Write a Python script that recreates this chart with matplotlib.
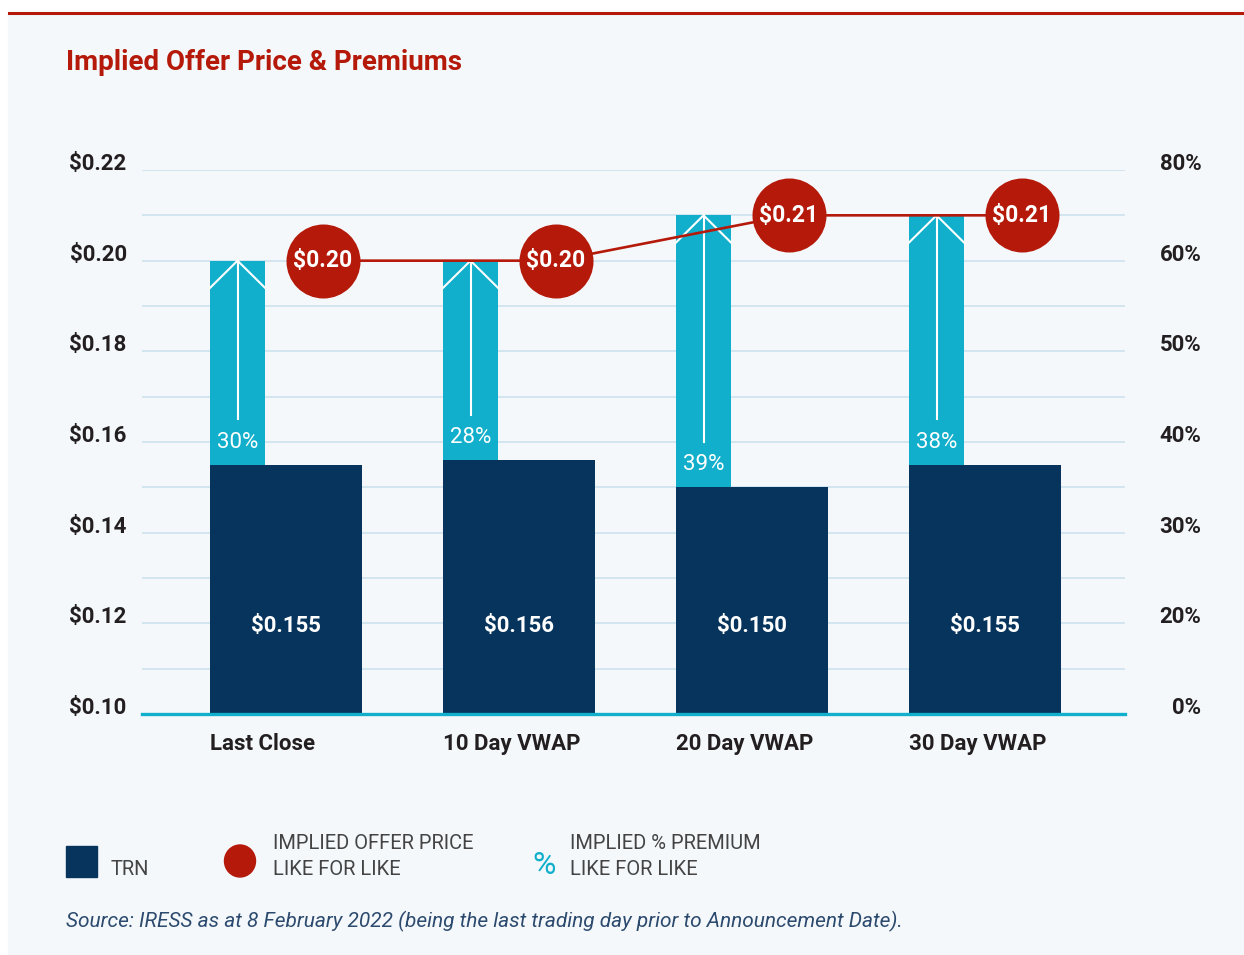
import numpy as np
import matplotlib
matplotlib.use("Agg")
import matplotlib.pyplot as plt
from matplotlib.patches import Rectangle, Ellipse
from matplotlib.lines import Line2D

# data
categories = ["Last Close", "10 Day VWAP", "20 Day VWAP", "30 Day VWAP"]
trn_price = [0.155, 0.156, 0.150, 0.155]
offer_price = [0.20, 0.20, 0.21, 0.21]
premium_pct = [30, 28, 39, 38]
left_ticks = [0.10, 0.12, 0.14, 0.16, 0.18, 0.20, 0.22]
left_tick_labels = ["$0.10", "$0.12", "$0.14", "$0.16", "$0.18", "$0.20", "$0.22"]
right_tick_labels = ["0%", "20%", "30%", "40%", "50%", "60%", "80%"]

NAVY = "#06345c"
CYAN = "#11afcb"
RED = "#b5190a"
GRID = "#d3e5ee"
PANEL = "#f4f8fb"
TEXT = "#231f20"
LEGTXT = "#444444"

plt.rcParams['font.family'] = ['Roboto', 'DejaVu Sans']

W, H = 1244, 955
fig = plt.figure(figsize=(W / 100, H / 100), dpi=100)

def fx(px):
    return px / W

def fy(py):
    return 1 - py / H

# panel background and red top rule
fig.patches.append(Rectangle((fx(8), 0), 1 - fx(8), fy(14), transform=fig.transFigure,
                             color=PANEL, zorder=-10))
fig.add_artist(Line2D([fx(9), 1], [fy(13.5), fy(13.5)], color=RED, lw=2.2))

fig.text(fx(66), fy(62), "Implied Offer Price & Premiums", color=RED, fontsize=20,
         fontweight='semibold', va='center', ha='left')

ax = fig.add_axes([fx(142), fy(714), fx(1125) - fx(142), fy(170) - fy(714)])
ax.set_facecolor('none')
ax.set_zorder(2)

x = np.arange(len(categories))
bar_w = 0.652
cyan_w = 0.236
circ_off = 0.159

trn = np.array(trn_price)
offer = np.array(offer_price)

ax.bar(x, trn - 0.10, bottom=0.10, width=bar_w, color=NAVY, zorder=2)
ax.bar(x - bar_w / 2, offer - trn, bottom=trn, width=cyan_w, align='edge',
       color=CYAN, zorder=2)

# arrows inside the premium bars
for i in range(len(x)):
    cx = x[i] - bar_w / 2 + cyan_w / 2
    ax.plot([cx, cx], [trn[i] + 0.010, offer[i]], color='white', lw=1.5, zorder=3)
    ax.plot([cx - cyan_w / 2, cx, cx + cyan_w / 2],
            [offer[i] - 0.006, offer[i], offer[i] - 0.006],
            color='white', lw=1.5, zorder=3, solid_joinstyle='miter')
    ax.text(cx, trn[i] + 0.005, f"{premium_pct[i]}%", color='white', fontsize=16,
            fontweight='normal', ha='center', va='center', zorder=4)
    ax.text(x[i], 0.1195, f"${trn[i]:.3f}", color='white', fontsize=16,
            fontweight='semibold', ha='center', va='center', zorder=4)

# offer price line and markers
ax.plot(x + circ_off, offer, color=RED, lw=1.9, zorder=5)
ax.scatter(x + circ_off, offer, s=2840, color=RED, zorder=6, clip_on=False, linewidths=0)
for i in range(len(x)):
    ax.text(x[i] + circ_off, offer[i], f"${offer[i]:.2f}", color='white', fontsize=16.5,
            fontweight='semibold', ha='center', va='center', zorder=7)

ax.set_xlim(-0.618, 3.601)
ax.set_ylim(0.10, 0.22)
ax.set_yticks(left_ticks, left_tick_labels)
ax.set_yticks(np.arange(0.10, 0.2201, 0.01), minor=True)
ax.grid(axis='y', which='both', color=GRID, lw=1.4, zorder=0)
ax.set_axisbelow(True)
ax.axhline(0.10, color=CYAN, lw=2.4, zorder=3, clip_on=False)
for s in ax.spines.values():
    s.set_visible(False)
ax.tick_params(axis='y', which='both', length=0, pad=11, labelsize=16, labelcolor=TEXT)
for t in ax.get_yticklabels():
    t.set_va('baseline')
    t.set_fontweight('semibold')

ax.set_xticks(x - bar_w / 2, categories)
ax.tick_params(axis='x', length=0, pad=14, labelsize=16, labelcolor=TEXT)
for t in ax.get_xticklabels():
    t.set_ha('left')
    t.set_fontweight('semibold')

ax2 = ax.twinx()
ax2.set_zorder(3)
ax2.set_ylim(ax.get_ylim())
ax2.set_yticks(left_ticks, right_tick_labels)
for s in ax2.spines.values():
    s.set_visible(False)
ax2.tick_params(axis='y', length=0, pad=55, labelsize=16, labelcolor=TEXT)
for t in ax2.get_yticklabels():
    t.set_ha('right')
    t.set_va('baseline')
    t.set_fontweight('semibold')

# legend
fig.patches.append(Rectangle((fx(66), fy(877)), fx(97) - fx(66), fy(846) - fy(877),
                             transform=fig.transFigure, color=NAVY))
fig.text(fx(111), fy(869), "TRN", color=LEGTXT, fontsize=14.5, fontweight='normal',
         va='center', ha='left')
fig.patches.append(Ellipse((fx(240), fy(861)), 31 / W, 32 / H, transform=fig.transFigure,
                           color=RED))
fig.text(fx(273), fy(843), "IMPLIED OFFER PRICE", color=LEGTXT, fontsize=14.5,
         fontweight='normal', va='center', ha='left')
fig.text(fx(273), fy(869), "LIKE FOR LIKE", color=LEGTXT, fontsize=14.5,
         fontweight='normal', va='center', ha='left')
fig.text(fx(544), fy(865), "%", color=CYAN, fontsize=23, fontweight='normal',
         va='center', ha='center')
fig.text(fx(570), fy(843), "IMPLIED % PREMIUM", color=LEGTXT, fontsize=14.5,
         fontweight='normal', va='center', ha='left')
fig.text(fx(570), fy(869), "LIKE FOR LIKE", color=LEGTXT, fontsize=14.5,
         fontweight='normal', va='center', ha='left')

fig.text(fx(66), fy(921),
         "Source: IRESS as at 8 February 2022 (being the last trading day prior to Announcement Date).",
         color="#2c4a6e", fontsize=15, fontstyle='italic', va='center', ha='left')

fig.savefig("out.png", dpi=100, facecolor='white')
